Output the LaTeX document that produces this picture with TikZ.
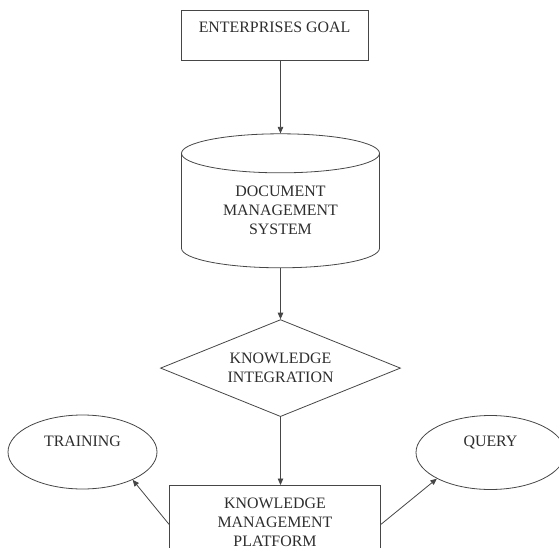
\documentclass[tikz,border=0pt]{standalone}
\usepackage{fontspec}
\setmainfont{Liberation Serif}
\usetikzlibrary{positioning,arrows.meta,shapes.geometric}
\definecolor{linegray}{RGB}{70,70,70}
\definecolor{textgray}{RGB}{45,45,45}
\tikzset{
  base/.style  = {draw=linegray, line width=0.8pt, text=textgray, align=center, inner sep=0pt, font=\fontsize{15.9}{19}\selectfont},
  rbox/.style  = {base, rectangle},
  drum/.style  = {base, cylinder, shape border rotate=90, aspect=0.34, minimum width=198pt, minimum height=134pt},
  rhomb/.style = {base, diamond, aspect=2.47, minimum width=240pt, minimum height=97pt},
  oval/.style  = {base, ellipse, minimum width=149pt, minimum height=74pt, text height=10.5pt, text depth=22pt},
  flow/.style  = {-{Triangle[length=6.5pt,width=5.5pt]}, line width=0.8pt, draw=linegray},
}
\begin{document}
\begin{tikzpicture}[x=1pt, y=-1pt]
  \useasboundingbox (0,0) rectangle (559,548);
  \clip (0,0) rectangle (559,548);
  \node[rbox, minimum width=187pt, minimum height=50pt, text height=10.5pt, text depth=16pt] (goal) at (274.5,35) {ENTERPRISES GOAL};
  \node[drum, below=73pt of goal, xshift=6pt] (dms) {DOCUMENT\\MANAGEMENT\\SYSTEM};
  \node[rhomb, below=51pt of dms] (integ) {KNOWLEDGE\\INTEGRATION};
  \node[rbox, below=68pt of integ, xshift=-5.5pt, minimum width=211pt, minimum height=74pt] (kmp) {KNOWLEDGE\\MANAGEMENT\\PLATFORM};
  \node[oval] (train) at (82.5,452) {TRAINING};
  \node[oval] (query) at (490.5,452.5) {QUERY};
  \draw[flow] (dms.north |- goal.south) -- (dms.north);
  \draw[flow] (dms.south) -- (integ.north);
  \draw[flow] (integ.south) -- (integ.south |- kmp.north);
  \draw[flow] ([yshift=-2pt]kmp.west) -- (train.-29);
  \draw[flow] ([yshift=-2pt]kmp.east) -- (query.206);
\end{tikzpicture}
\end{document}
